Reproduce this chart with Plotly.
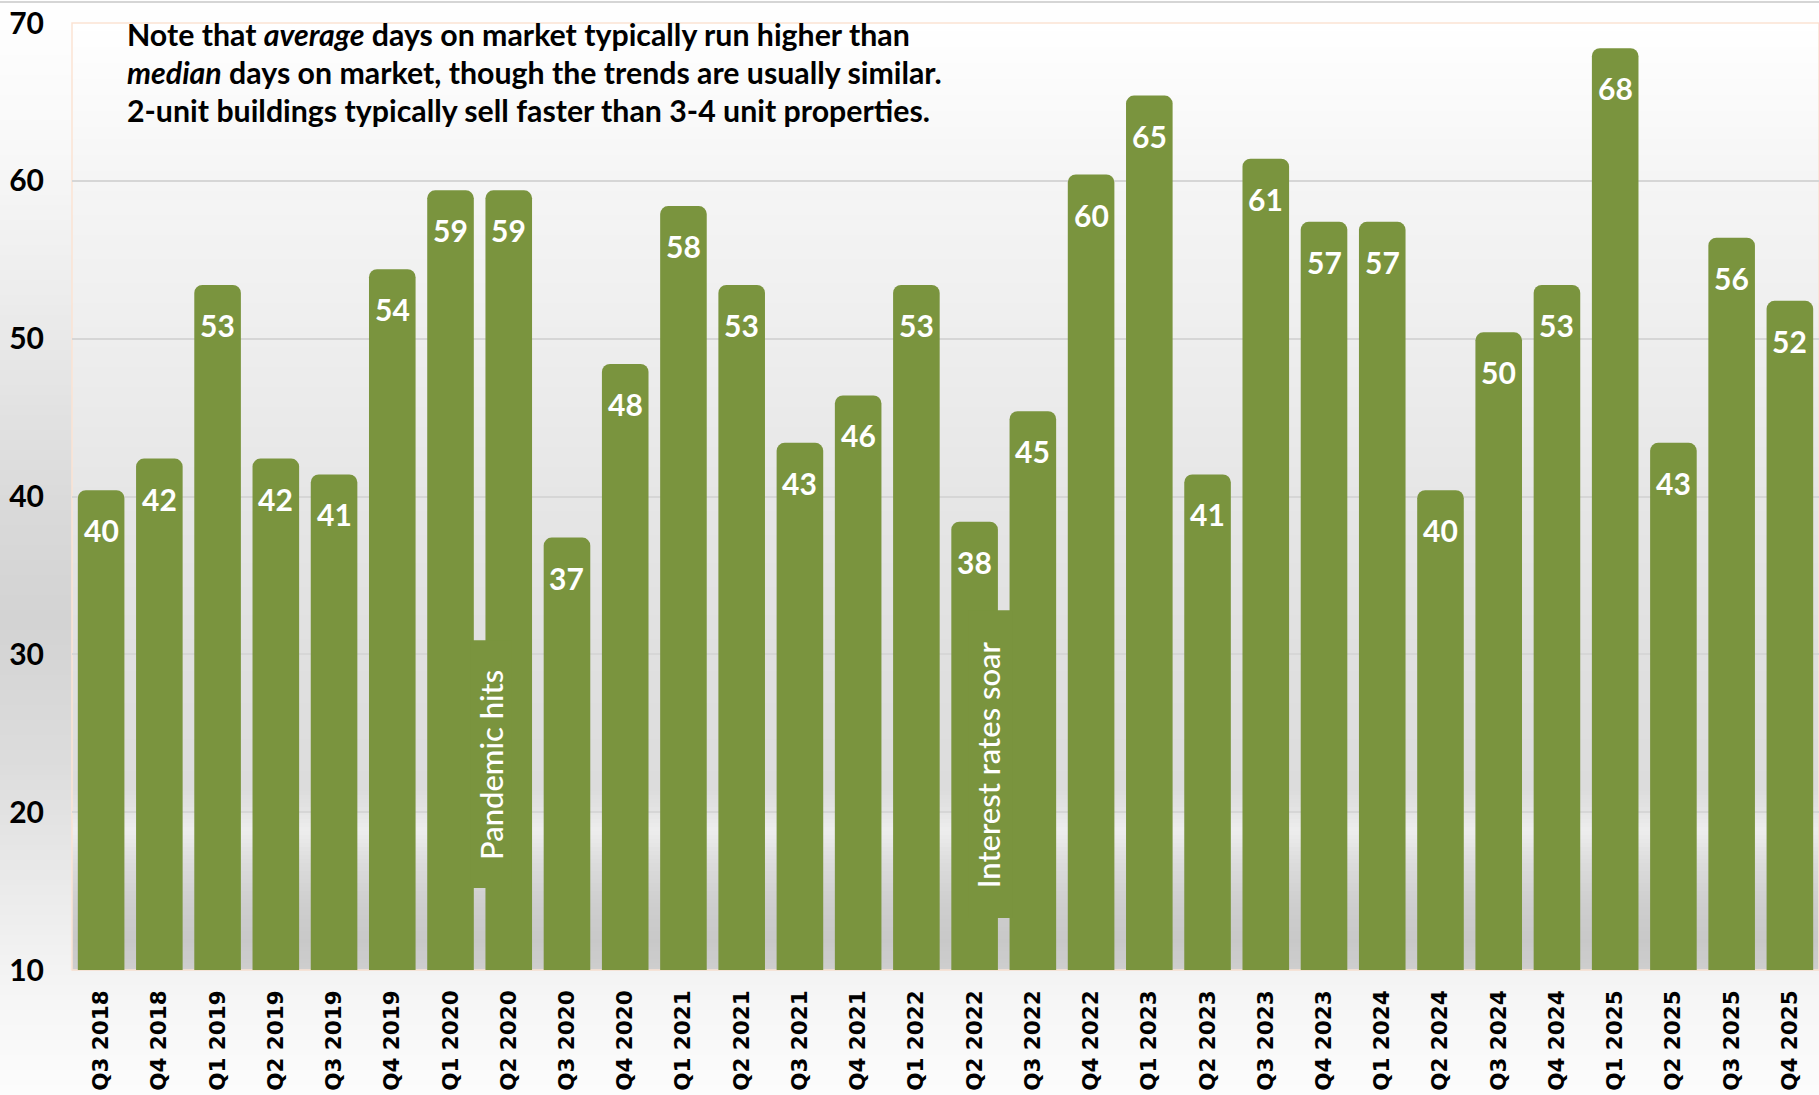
import plotly.graph_objects as go

quarters = ["Q3 2018", "Q4 2018", "Q1 2019", "Q2 2019", "Q3 2019", "Q4 2019",
            "Q1 2020", "Q2 2020", "Q3 2020", "Q4 2020", "Q1 2021", "Q2 2021",
            "Q3 2021", "Q4 2021", "Q1 2022", "Q2 2022", "Q3 2022", "Q4 2022",
            "Q1 2023", "Q2 2023", "Q3 2023", "Q4 2023", "Q1 2024", "Q2 2024",
            "Q3 2024", "Q4 2024", "Q1 2025", "Q2 2025", "Q3 2025", "Q4 2025"]
avg_days = [40.4, 42.4, 53.4, 42.4, 41.4, 54.4,
            59.4, 59.4, 37.4, 48.4, 58.4, 53.4,
            43.4, 46.4, 53.4, 38.4, 45.4, 60.4,
            65.4, 41.4, 61.4, 57.4, 57.4, 40.4,
            50.4, 53.4, 68.4, 43.4, 56.4, 52.4]
y_ticks = [10, 20, 30, 40, 50, 60, 70]
note_lines = ["Note that <i>average</i> days on market typically run higher than",
              "<i>median</i> days on market, though the trends are usually similar.",
              "2-unit buildings typically sell faster than 3-4 unit properties."]
events = [("Pandemic hits", 6.7, 23.0, 6.35, 7.05, 15.2, 30.9),
          ("Interest rates soar", 15.22, 23.0, 14.9, 15.65, 13.3, 32.8)]

W, H = 1819, 1095
ML, MR, MT, MB = 72, 0, 23, 125
PW, PH = W - ML - MR, H - MT - MB
GREEN = "#7A943E"


def px_x(p):
    return (p - ML) / PW


def px_y(p):
    return (H - MB - p) / PH


def hex2rgb(h):
    h = h.lstrip("#")
    return tuple(int(h[i:i + 2], 16) for i in (0, 2, 4))


def interp(stops, p):
    for (p0, c0), (p1, c1) in zip(stops, stops[1:]):
        if p0 <= p <= p1:
            t = (p - p0) / (p1 - p0) if p1 > p0 else 0
            a, b = hex2rgb(c0), hex2rgb(c1)
            return "rgb(%d,%d,%d)" % tuple(round(a[i] + (b[i] - a[i]) * t) for i in range(3))
    return stops[-1][1]


shapes = []


def gradient(stops, x0px, x1px, y0px, y1px, step=4):
    p = y0px
    while p < y1px:
        q = min(p + step, y1px)
        shapes.append(dict(type="rect", xref="paper", yref="paper",
                           x0=px_x(x0px), x1=px_x(x1px),
                           y0=px_y(q + 0.6), y1=px_y(p),
                           fillcolor=interp(stops, (p + q) / 2),
                           line=dict(width=0), layer="below"))
        p = q


fig_stops = [(0, "#ffffff"), (150, "#f8f8f8"), (300, "#ececec"), (500, "#dadada"),
             (620, "#d3d3d3"), (760, "#dcdcdc"), (900, "#ececec"), (1000, "#f6f6f6"),
             (1095, "#fcfcfc")]
plot_stops = [(23, "#ffffff"), (180, "#f5f5f5"), (338, "#eeeeee"), (496, "#e6e6e6"),
              (654, "#e0e0e0"), (790, "#dcdcdc"), (812, "#e4e4e4"), (830, "#eeeeee"),
              (860, "#dddddd"), (900, "#cfcfcf"), (940, "#c8c8c8"), (970, "#cecece")]

gradient(fig_stops, 0, W, 0, H, step=5)
gradient(plot_stops, ML, W, MT, H - MB, step=4)

# plot-area border and top rule
shapes.append(dict(type="rect", xref="paper", yref="paper", x0=0, x1=1, y0=0, y1=1,
                   line=dict(color="#FBE3D3", width=1.5), layer="below"))
shapes.append(dict(type="line", xref="paper", yref="paper", x0=px_x(0), x1=px_x(W),
                   y0=px_y(2), y1=px_y(2), line=dict(color="#d6d6d6", width=2)))

# event boxes
for label, tx, ty, bx0, bx1, by0, by1 in events:
    shapes.append(dict(type="rect", xref="x", yref="y", x0=bx0, x1=bx1, y0=by0, y1=by1,
                       fillcolor=GREEN, line=dict(width=0), layer="above"))

fig = go.Figure()
fig.add_trace(go.Bar(x=list(range(len(quarters))), y=avg_days,
                     marker=dict(color=GREEN, line=dict(width=0)), hoverinfo="skip"))

annotations = []
for i, v in enumerate(avg_days):
    annotations.append(dict(x=i, y=v, xref="x", yref="y", text="%.0f" % v, showarrow=False,
                            yshift=-40, yanchor="middle", xanchor="center",
                            font=dict(family="Lato", size=30, color="white", weight="bold")))
for k, line in enumerate(note_lines):
    annotations.append(dict(x=px_x(125), y=px_y(34 + 38 * k), xref="paper", yref="paper",
                            text=line, showarrow=False, xanchor="left", yanchor="middle",
                            font=dict(family="Lato", size=30.3, color="black", weight="bold")))
for label, tx, ty, bx0, bx1, by0, by1 in events:
    annotations.append(dict(x=tx, y=ty, xref="x", yref="y", text=label, showarrow=False,
                            textangle=-90, xanchor="center", yanchor="middle",
                            font=dict(family="Lato", size=31, color="white", weight=500)))

fig.update_layout(
    width=W, height=H,
    margin=dict(l=ML, r=MR, t=MT, b=MB),
    paper_bgcolor="white", plot_bgcolor="rgba(0,0,0,0)",
    bargap=0.2, barcornerradius=8,
    showlegend=False,
    shapes=shapes, annotations=annotations,
    xaxis=dict(tickmode="array", tickvals=list(range(len(quarters))), ticktext=quarters,
               tickangle=-90, range=[-0.5, len(quarters) - 0.5], showgrid=False,
               zeroline=False, showline=False, ticks="", ticklabelstandoff=15,
               tickfont=dict(family="DejaVu Sans", size=21.5, color="black", weight="bold")),
    yaxis=dict(range=[10, 70], tickmode="array", tickvals=y_ticks, showgrid=True,
               gridcolor="#d6d6d6", gridwidth=1.5, zeroline=False, showline=False,
               ticks="", ticklabelstandoff=27,
               tickfont=dict(family="Lato", size=30, color="black", weight="bold")),
)

fig.write_html("out.html")
